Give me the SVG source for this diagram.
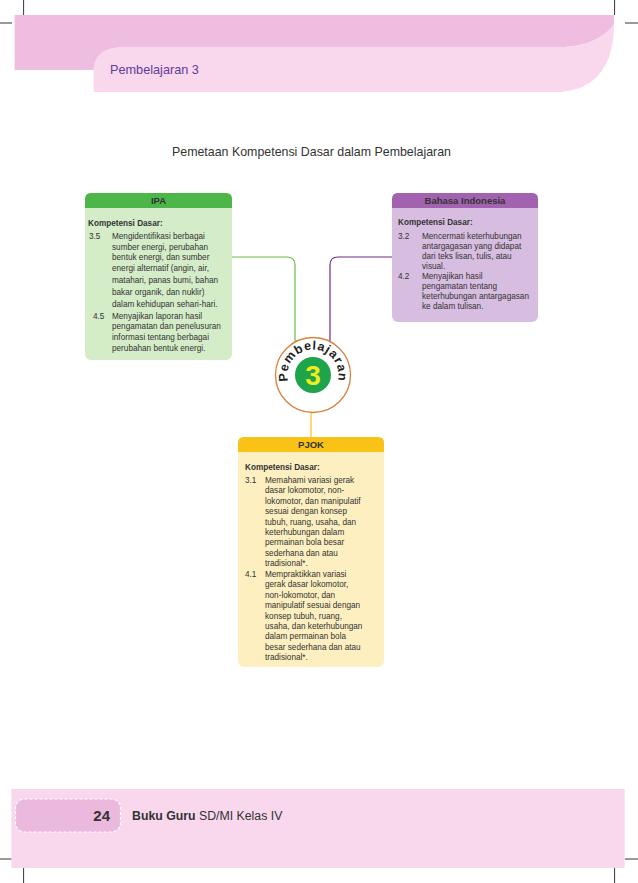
<svg xmlns="http://www.w3.org/2000/svg" width="638" height="883" viewBox="0 0 638 883">
<style>
text{font-family:"Liberation Sans",Arial,sans-serif;}
.b{font-size:8.2px;fill:#333;}
.kd{font-size:8.2px;font-weight:bold;fill:#333;}
.hd{font-size:9.5px;font-weight:bold;fill:#333;text-anchor:middle;}
.crop{stroke:#000;stroke-width:0.8;fill:none;}
.con{fill:none;stroke-width:1.2;}
</style>
<rect x="0" y="0" width="638" height="883" fill="#fff"/>
<!-- header -->
<g id="header">
<path d="M14.6,15 H614 V24 C605,38 585,47 560,47 H130 V70 H14.6 Z" fill="#eebde0"/>
<path d="M93.6,92 V70 C93.6,56 104,47 122,47 H560 C585,47 605,38 614,24 C614,60 600,92 555,92 Z" fill="#f9d7ec"/>
<text x="110" y="73.5" font-size="12.7" fill="#5e3c99">Pembelajaran 3</text>
</g>
<g id="cropmarks">
<path class="crop" d="M23.6,0 V15 M614.6,0 V15 M0,23 H12 M625,23 H638 M0,859 H12 M625,859 H638 M23.6,868 V883 M614.6,868 V883"/>
</g>
<text x="172" y="156" font-size="12.4" fill="#333">Pemetaan Kompetensi Dasar dalam Pembelajaran</text>
<!-- connectors -->
<g id="connectors">
<path class="con" stroke="#6cbd45" d="M232,257 H287 Q295,257 295,265 V342"/>
<path class="con" stroke="#6a2c83" d="M392,257 H338 Q330,257 330,265 V342"/>
<path class="con" stroke="#f5c21b" d="M311,412.5 V437"/>
</g>
<!-- IPA -->
<g id="ipa">
<rect x="85" y="193" width="147" height="167" rx="6" fill="#d5ecc8"/>
<path d="M85,208 V199 Q85,193 91,193 H226 Q232,193 232,199 V208 Z" fill="#4cb748"/>
<text class="hd" x="158.5" y="204">IPA</text>
<text class="kd" x="88" y="226">Kompetensi Dasar:</text>
<text class="b" x="89" y="239">3.5</text>
<text class="b" x="112" y="239">Mengidentifikasi berbagai</text>
<text class="b" x="112" y="249.5">sumber energi, perubahan</text>
<text class="b" x="112" y="260">bentuk energi, dan sumber</text>
<text class="b" x="112" y="270.5">energi alternatif (angin, air,</text>
<text class="b" x="112" y="283">matahari, panas bumi, bahan</text>
<text class="b" x="112" y="295">bakar organik, dan nuklir)</text>
<text class="b" x="112" y="307">dalam kehidupan sehari-hari.</text>
<text class="b" x="93" y="318.5">4.5</text>
<text class="b" x="112" y="318.5">Menyajikan laporan hasil</text>
<text class="b" x="112" y="329">pengamatan dan penelusuran</text>
<text class="b" x="112" y="340">informasi tentang berbagai</text>
<text class="b" x="112" y="351">perubahan bentuk energi.</text>
</g>
<!-- Bahasa Indonesia -->
<g id="bahasa">
<rect x="392" y="193" width="146" height="129" rx="6" fill="#d7bde0"/>
<path d="M392,208 V199 Q392,193 398,193 H532 Q538,193 538,199 V208 Z" fill="#a262b0"/>
<text class="hd" x="465" y="204">Bahasa Indonesia</text>
<text class="kd" x="398" y="225">Kompetensi Dasar:</text>
<text class="b" x="398" y="239">3.2</text>
<text class="b" x="422" y="239">Mencermati keterhubungan</text>
<text class="b" x="422" y="249">antargagasan yang didapat</text>
<text class="b" x="422" y="259">dari teks lisan, tulis, atau</text>
<text class="b" x="422" y="268.5">visual.</text>
<text class="b" x="398" y="279">4.2</text>
<text class="b" x="422" y="279">Menyajikan hasil</text>
<text class="b" x="422" y="289">pengamatan tentang</text>
<text class="b" x="422" y="299">keterhubungan antargagasan</text>
<text class="b" x="422" y="309">ke dalam tulisan.</text>
</g>
<!-- center -->
<g id="pembelajaran3">
<circle cx="313" cy="375" r="37.5" fill="#fff" stroke="#d9803f" stroke-width="1.3"/>
<circle cx="313" cy="375" r="18" fill="#1ea44b"/>
<text x="313" y="385" font-size="28" font-weight="bold" fill="#f2ea1d" text-anchor="middle">3</text>
<path id="arc" d="M313,400.5 A25.5,25.5 0 1,1 313,349.5 A25.5,25.5 0 1,1 313,400.5" fill="none"/>
<text font-size="12.5" font-weight="bold" fill="#231f20" letter-spacing="0.9"><textPath href="#arc" startOffset="50%" text-anchor="middle">Pembelajaran</textPath></text>
</g>
<!-- PJOK -->
<g id="pjok">
<rect x="238" y="437" width="146" height="230" rx="6" fill="#fdefc0"/>
<path d="M238,452 V443 Q238,437 244,437 H378 Q384,437 384,443 V452 Z" fill="#f8c316"/>
<text class="hd" x="311" y="448">PJOK</text>
<text class="kd" x="245" y="470">Kompetensi Dasar:</text>
<text class="b" x="245" y="483">3.1</text>
<text class="b" x="265" y="483">Memahami variasi gerak</text>
<text class="b" x="265" y="493.4">dasar lokomotor, non-</text>
<text class="b" x="265" y="503.8">lokomotor, dan manipulatif</text>
<text class="b" x="265" y="514.2">sesuai dengan konsep</text>
<text class="b" x="265" y="524.6">tubuh, ruang, usaha, dan</text>
<text class="b" x="265" y="535">keterhubungan dalam</text>
<text class="b" x="265" y="545.4">permainan bola besar</text>
<text class="b" x="265" y="555.8">sederhana dan atau</text>
<text class="b" x="265" y="566.2">tradisional*.</text>
<text class="b" x="245" y="577">4.1</text>
<text class="b" x="265" y="577">Mempraktikkan variasi</text>
<text class="b" x="265" y="587.4">gerak dasar lokomotor,</text>
<text class="b" x="265" y="597.8">non-lokomotor, dan</text>
<text class="b" x="265" y="608.2">manipulatif sesuai dengan</text>
<text class="b" x="265" y="618.6">konsep tubuh, ruang,</text>
<text class="b" x="265" y="629">usaha, dan keterhubungan</text>
<text class="b" x="265" y="639.4">dalam permainan bola</text>
<text class="b" x="265" y="649.8">besar sederhana dan atau</text>
<text class="b" x="265" y="660.2">tradisional*.</text>
</g>
<!-- footer -->
<g id="footer">
<rect x="11.4" y="789" width="613.3" height="79" fill="#f9d7ec"/>
<rect x="15.5" y="799" width="105" height="33" rx="9" fill="#ebb8de" stroke="#fff" stroke-width="1.2" stroke-dasharray="3 2"/>
<text x="110" y="821" font-size="15" font-weight="bold" fill="#333" text-anchor="end">24</text>
<text x="132" y="820" font-size="12.3" fill="#333"><tspan font-weight="bold">Buku Guru</tspan> SD/MI Kelas IV</text>
</g>
</svg>
